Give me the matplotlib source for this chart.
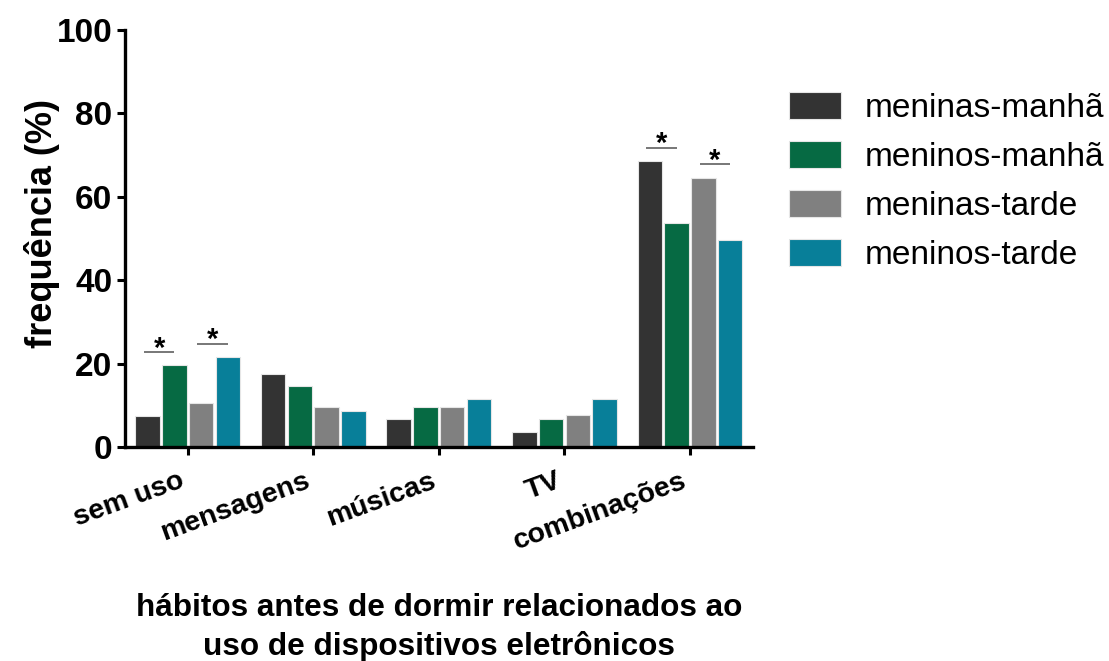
import matplotlib
matplotlib.use("Agg")
import matplotlib.pyplot as plt
from matplotlib.patches import Patch
import numpy as np

plt.rcParams["font.family"] = ["Liberation Sans", "DejaVu Sans"]

categories = ["sem uso", "mensagens", "músicas", "TV", "combinações"]
series_names = ["meninas-manhã", "meninos-manhã", "meninas-tarde", "meninos-tarde"]
meninas_manha = [7.5, 17.6, 6.6, 3.5, 68.6]
meninos_manha = [19.6, 14.6, 9.5, 6.6, 53.6]
meninas_tarde = [10.6, 9.5, 9.5, 7.6, 64.6]
meninos_tarde = [21.6, 8.6, 11.5, 11.5, 49.6]
colors = ["#333333", "#066a43", "#808080", "#087f99"]
yticks = [0, 20, 40, 60, 80, 100]

# significance brackets: (category index, left series, right series)
significance = [(0, 0, 1), (0, 2, 3), (4, 0, 1), (4, 2, 3)]

series = [meninas_manha, meninos_manha, meninas_tarde, meninos_tarde]

fig = plt.figure(figsize=(11.09, 6.61), dpi=100)
ax = fig.add_axes([125 / 1109, 1 - 447 / 661, (752.7 - 125) / 1109, 417 / 661])

x = np.arange(len(categories))
pitch = 0.213
width = 0.195
offsets = (np.arange(len(series)) - 1.5) * pitch
for vals, off, col in zip(series, offsets, colors):
    ax.bar(x + off, vals, width=width, color=col, edgecolor="#e6e6e6",
           linewidth=0.8, zorder=2)

for cat, a, b in significance:
    xa = x[cat] + offsets[a]
    xb = x[cat] + offsets[b]
    top = max(series[a][cat], series[b][cat]) + 3.2
    ax.plot([xa - 0.03, xb], [top, top], color="#777777", lw=1.4,
            solid_capstyle="butt", zorder=3)
    ax.text((xa + xb) / 2 - 0.015, top - 1.1, "*", ha="center", va="baseline",
            fontsize=21, fontweight="bold", color="black")

ax.set_xlim(-0.5, 4.5)
ax.set_ylim(0, 100)
ax.set_yticks(yticks)
ax.set_xticks(x)
ax.set_xticklabels(categories, rotation=20, ha="right", fontsize=20.5,
                   fontweight="bold")
for lbl in ax.get_yticklabels():
    lbl.set_fontweight("bold")
ax.tick_params(axis="y", labelsize=24, width=2.2, length=6, pad=3)
ax.tick_params(axis="x", width=2.2, length=6, pad=9)

for side in ["top", "right"]:
    ax.spines[side].set_visible(False)
for side in ["left", "bottom"]:
    ax.spines[side].set_linewidth(2.4)

ax.set_ylabel("frequência (%)", fontsize=26, fontweight="bold")
ax.yaxis.set_label_coords(-0.104, 0.537)
ax.set_xlabel("hábitos antes de dormir relacionados ao\nuso de dispositivos eletrônicos",
              fontsize=22.7, fontweight="bold", labelpad=28, linespacing=1.32)

handles = [Patch(facecolor=c, edgecolor="#e6e6e6", linewidth=0.8) for c in colors]
fig.legend(handles, series_names, loc="upper left",
           bbox_to_anchor=(789 / 1109, 1 - 92 / 661), frameon=False,
           fontsize=24, handlelength=1.57, handleheight=0.85,
           handletextpad=0.7, labelspacing=0.52, borderaxespad=0,
           borderpad=0)

fig.savefig("out.png", dpi=100)
